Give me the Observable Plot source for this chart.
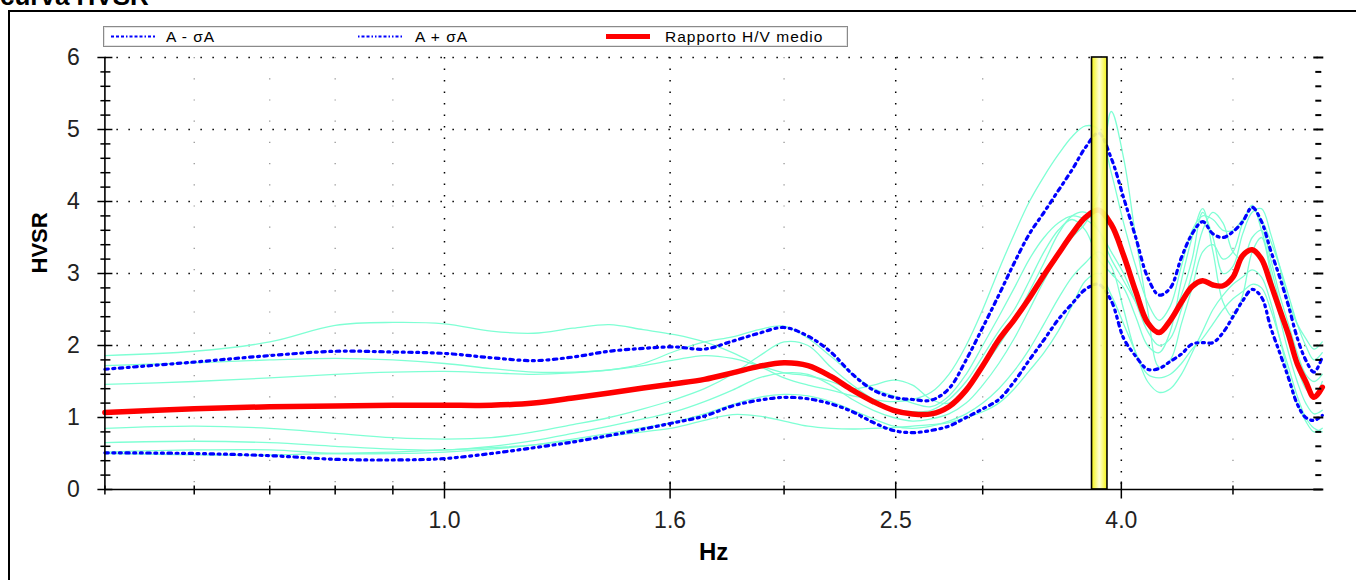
<!DOCTYPE html>
<html>
<head>
<meta charset="utf-8">
<script src="https://cdn.jsdelivr.net/npm/d3@7"></script>
<script src="https://cdn.jsdelivr.net/npm/@observablehq/plot@0.6"></script>
<style>
  html, body { margin: 0; padding: 0; background: #fff; }
  #wrap { position: relative; width: 1356px; height: 580px; overflow: hidden; background: #fff; font-family: "Liberation Sans", Arial, sans-serif; }
  #frame { position: absolute; left: 8px; top: 10px; width: 1400px; height: 620px; border-left: 2px solid #000; border-top: 2px solid #000; }
  #title { position: absolute; left: 0px; top: -17px; font: bold 26px "Liberation Sans", Arial, sans-serif; line-height: 26px; color: #000; white-space: nowrap; }
  #chart { position: absolute; left: 0; top: 0; }
  #legend { position: absolute; left: 103px; top: 26px; width: 743px; height: 19px; border: 1px solid #8a8a8a; box-shadow: inset 0 0 0 1px #e4e4e4; background: #fff; }
  .lg-text { position: absolute; top: 0px; font-size: 15.5px; letter-spacing: 1px; color: #000; line-height: 19px; white-space: nowrap; }
  .lg-line { position: absolute; top: 0; }
</style>
</head>
<body>
<div id="wrap">
  <div id="title">curva HVSR</div>
  <div id="frame"></div>
  <div id="chart"></div>
  <div id="legend"></div>
</div>
<script>
// ---------- DATA ----------
const freq = [0.5,0.6,0.7,0.8,0.9,1.0,1.1,1.2,1.3,1.4,1.5,1.6,1.7,1.8,1.9,2.0,2.1,2.2,2.3,2.4,2.5,2.6,2.7,2.8,2.9,3.0,3.1,3.2,3.3,3.4,3.5,3.6,3.7,3.8,3.9,4.0,4.1,4.2,4.3,4.4,4.5,4.6,4.7,4.8,4.9,5.0,5.1,5.2,5.3,5.4,5.5,5.6,5.7,5.8,5.9,6.0];

const meanHV = [1.07,1.12,1.15,1.16,1.17,1.17,1.17,1.20,1.27,1.34,1.41,1.47,1.53,1.62,1.71,1.76,1.72,1.57,1.38,1.22,1.10,1.05,1.05,1.15,1.38,1.72,2.08,2.36,2.66,2.98,3.27,3.55,3.78,3.88,3.68,3.25,2.75,2.32,2.18,2.35,2.60,2.82,2.90,2.84,2.83,2.95,3.25,3.33,3.20,2.86,2.50,2.15,1.75,1.50,1.28,1.42];

const upperHV = [1.67,1.77,1.86,1.92,1.91,1.89,1.83,1.79,1.84,1.92,1.96,1.98,1.95,2.06,2.17,2.25,2.13,1.91,1.60,1.38,1.28,1.25,1.24,1.40,1.80,2.25,2.70,3.15,3.55,3.85,4.15,4.44,4.75,4.95,4.60,4.05,3.50,2.95,2.70,2.80,3.22,3.55,3.72,3.55,3.50,3.58,3.72,3.92,3.72,3.32,2.95,2.55,2.11,1.80,1.63,1.84];

const lowerHV = [0.51,0.50,0.47,0.42,0.41,0.43,0.50,0.58,0.66,0.75,0.84,0.93,1.02,1.16,1.24,1.28,1.26,1.19,1.08,0.93,0.82,0.79,0.82,0.88,1.00,1.12,1.25,1.50,1.80,2.08,2.36,2.58,2.78,2.85,2.62,2.10,1.85,1.67,1.68,1.78,1.88,2.02,2.04,2.04,2.18,2.40,2.62,2.78,2.67,2.25,1.90,1.55,1.19,1.00,0.96,1.03];

const window1 = [1.86,1.92,2.05,2.28,2.32,2.30,2.20,2.17,2.24,2.29,2.22,2.15,2.05,1.90,1.72,1.55,1.45,1.38,1.30,1.25,1.22,1.25,1.35,1.60,2.00,2.50,3.05,3.55,4.00,4.35,4.65,4.90,5.05,5.00,4.40,3.70,3.10,2.60,2.35,2.55,3.10,3.60,3.80,3.75,3.60,3.60,3.75,3.90,3.75,3.45,3.10,2.70,2.30,2.00,1.80,1.90];
const window2 = [1.72,1.76,1.80,1.82,1.80,1.75,1.68,1.63,1.63,1.66,1.75,1.92,2.05,2.12,2.22,2.27,2.10,1.85,1.60,1.40,1.30,1.20,1.15,1.30,1.60,2.00,2.40,2.80,3.20,3.50,3.70,3.80,3.75,3.60,3.30,3.00,2.60,2.20,2.00,2.10,2.50,3.00,3.60,3.85,3.70,3.30,3.20,3.50,3.60,3.20,2.70,2.30,1.90,1.60,1.50,1.60];
const window3 = [1.46,1.50,1.55,1.60,1.63,1.64,1.62,1.60,1.62,1.66,1.72,1.80,1.86,1.82,1.72,1.62,1.58,1.50,1.40,1.45,1.52,1.45,1.25,1.20,1.40,1.70,2.00,2.35,2.75,3.15,3.55,3.80,3.85,3.60,3.20,2.90,2.60,2.30,2.20,2.35,2.70,3.20,3.85,3.50,3.00,3.10,3.55,3.85,3.90,3.55,3.10,2.60,2.30,2.10,1.95,2.05];
const window4 = [0.85,0.88,0.85,0.78,0.72,0.70,0.72,0.80,0.90,1.00,1.12,1.25,1.40,1.60,1.85,2.05,2.00,1.70,1.45,1.25,1.12,1.08,1.10,1.25,1.50,1.85,2.20,2.50,2.90,3.30,3.60,3.75,3.60,3.20,3.00,2.80,2.40,2.00,1.90,2.20,2.90,3.50,3.90,3.30,2.60,2.40,2.70,3.30,3.50,3.00,2.40,1.90,1.50,1.20,1.05,1.10];
const window5 = [0.65,0.67,0.65,0.60,0.56,0.55,0.60,0.68,0.78,0.88,0.98,1.08,1.22,1.38,1.55,1.62,1.60,1.45,1.25,1.10,1.00,0.95,0.98,1.05,1.20,1.45,1.75,2.10,2.50,2.90,3.25,3.50,3.70,4.10,5.25,4.60,3.50,2.50,1.70,1.80,2.30,2.80,3.30,3.40,3.20,3.30,3.70,3.95,3.60,3.10,2.60,2.10,1.70,1.40,1.30,1.50];
const window6 = [0.52,0.55,0.55,0.50,0.50,0.52,0.56,0.62,0.70,0.78,0.86,0.94,1.05,1.18,1.28,1.32,1.30,1.22,1.10,0.98,0.88,0.85,0.88,0.95,1.05,1.20,1.40,1.65,1.95,2.30,2.65,2.95,3.15,3.30,3.10,2.50,1.90,1.60,1.55,1.60,1.75,1.95,2.10,2.30,2.50,2.65,2.75,2.85,2.80,2.50,2.10,1.70,1.30,1.00,0.85,0.80];
const window7 = [0.50,0.48,0.48,0.50,0.52,0.55,0.58,0.62,0.68,0.74,0.80,0.86,0.96,1.04,1.02,0.95,0.88,0.85,0.84,0.85,0.86,0.88,0.90,0.93,1.00,1.08,1.20,1.40,1.65,1.90,2.20,2.55,2.90,3.00,2.70,2.30,1.90,1.50,1.35,1.40,1.60,1.90,2.20,2.50,2.70,2.85,2.95,3.05,2.95,2.60,2.10,1.60,1.20,0.95,0.80,0.85];
const windows = [window1, window2, window3, window4, window5, window6, window7];

// peak frequency band (yellow)
const peakLow = 3.75;
const peakHigh = 3.87;

// axis ticks and labels
const yTicks = [0,1,2,3,4,5,6];
const yTickLabels = ["0","1","2","3","4","5","6"];
const yGridLines = [1,2,3,4,5,6];
const yMinorTicks = [0.2,0.4,0.6,0.8,1.2,1.4,1.6,1.8,2.2,2.4,2.6,2.8,3.2,3.4,3.6,3.8,4.2,4.4,4.6,4.8,5.2,5.4,5.6,5.8];
const xMajorTicks = [1, 10 ** 0.2, 10 ** 0.4, 10 ** 0.6];
const xMajorLabels = ["1.0", "1.6", "2.5", "4.0"];
const xMinorTicks = [0.5, 0.6, 0.7, 0.8, 0.9, 2, 3, 5];
const xMinorGrid = [0.6, 0.7, 0.8, 0.9, 2, 3, 5];

const dashLower = "3.5,4.5,2,4.5,2,4.5";
const dashUpper = "3.5,4.5,2,4.5";

const legendItems = [
  {label: "A - σA", color: "#0000ff", width: 2.2, dash: "3,2,3,2,3,2,1.5,2", left: 7, textLeft: 62},
  {label: "A + σA", color: "#0000ff", width: 2.2, dash: "1.5,2,3,2,3,2,1.5,2", left: 254, textLeft: 311},
  {label: "Rapporto H/V medio", color: "#ff0000", width: 5, dash: null, left: 502, textLeft: 561}
];

// ---------- TABLES ----------
const windowRows = windows.flatMap((arr, k) => arr.map((v, i) => ({f: freq[i], v, w: k})));
const meanRows = meanHV.map((v, i) => ({f: freq[i], v}));
const upperRows = upperHV.map((v, i) => ({f: freq[i], v}));
const lowerRows = lowerHV.map((v, i) => ({f: freq[i], v}));

const font = "'Liberation Sans', Arial, sans-serif";

// tick glyphs (pixel-length strokes used as dot symbols)
const hTick = len => ({draw(ctx) { ctx.moveTo(-len / 2, 0); ctx.lineTo(len / 2, 0); }});
const vTick = len => ({draw(ctx) { ctx.moveTo(0, -len / 2); ctx.lineTo(0, len / 2); }});
const xStart = () => 0.5;
const xEnd = () => 6;
const yZero = () => 0;

const svg = Plot.plot({
  width: 1356,
  height: 580,
  marginLeft: 104.4,
  marginRight: 34.2,
  marginTop: 57,
  marginBottom: 91,
  style: {background: "transparent", fontFamily: font, overflow: "visible", color: "#000"},
  x: {type: "log", domain: [0.5, 6], axis: null},
  y: {domain: [0, 6], axis: null},
  marks: [
    // grid
    Plot.ruleY(yGridLines, {stroke: "#000", strokeWidth: 1.5, strokeDasharray: "1.5,10.5"}),
    Plot.ruleX(xMinorGrid, {stroke: "#8c8c8c", strokeWidth: 1.2, strokeDasharray: "1.2,20"}),
    Plot.ruleX(xMajorTicks, {stroke: "#000", strokeWidth: 1.5, strokeDasharray: "1.5,10"}),
    // individual windows
    Plot.line(windowRows, {x: "f", y: "v", z: "w", stroke: "#7fffd4", strokeWidth: 1.3, curve: "catmull-rom"}),
    // mean ± sigma
    Plot.line(lowerRows, {x: "f", y: "v", stroke: "#0000ff", strokeWidth: 3.2, strokeDasharray: dashLower, curve: "catmull-rom"}),
    Plot.line(upperRows, {x: "f", y: "v", stroke: "#0000ff", strokeWidth: 3.2, strokeDasharray: dashUpper, curve: "catmull-rom"}),
    Plot.line(meanRows, {x: "f", y: "v", stroke: "#ff0000", strokeWidth: 5.5, curve: "catmull-rom"}),
    // peak band
    Plot.rect([{lo: peakLow, hi: peakHigh}], {x1: "lo", x2: "hi", y1: () => 0, y2: () => 6, fill: "url(#bandGrad)", fillOpacity: 0.93, stroke: "#000", strokeWidth: 1.6}),
    // axis lines
    Plot.ruleY([0], {stroke: "#000", strokeWidth: 1.6}),
    Plot.ruleX([0.5], {stroke: "#000", strokeWidth: 1.6}),
    // y ticks (crossing the axis)
    Plot.dot(yTicks, {x: xStart, y: d => d, symbol: hTick(15), fill: "none", stroke: "#000", strokeWidth: 1.5, dx: 0}),
    Plot.dot(yMinorTicks, {x: xStart, y: d => d, symbol: hTick(10), fill: "none", stroke: "#000", strokeWidth: 1.5, dx: 0.5}),
    // right side tick dashes
    Plot.dot(yTicks, {x: xEnd, y: d => d, symbol: hTick(10), fill: "none", stroke: "#000", strokeWidth: 2, dx: -4}),
    Plot.dot(yMinorTicks, {x: xEnd, y: d => d, symbol: hTick(6), fill: "none", stroke: "#000", strokeWidth: 2, dx: -4}),
    // x ticks (crossing the axis)
    Plot.dot(xMajorTicks, {x: d => d, y: yZero, symbol: vTick(17), fill: "none", stroke: "#000", strokeWidth: 1.5, dy: 0.5}),
    Plot.dot(xMinorTicks, {x: d => d, y: yZero, symbol: vTick(9), fill: "none", stroke: "#000", strokeWidth: 1.5, dy: 0.5}),
    // tick labels
    Plot.text(yTicks, {x: xStart, y: d => d, text: (d, i) => yTickLabels[i], textAnchor: "end", dx: -25, fontSize: 23, fill: "#222"}),
    Plot.text(xMajorTicks, {x: d => d, y: yZero, text: (d, i) => xMajorLabels[i], dy: 31, fontSize: 23, fill: "#222"}),
    // axis titles
    Plot.text(["Hz"], {frameAnchor: "bottom", dy: 70, fontSize: 24, fontWeight: "bold", text: d => d}),
    Plot.text(["HVSR"], {frameAnchor: "left", dx: -65, rotate: -90, fontSize: 22, fontWeight: "bold", text: d => d})
  ]
});

// gradient for the peak band
const ns = "http://www.w3.org/2000/svg";
const defs = document.createElementNS(ns, "defs");
const grad = document.createElementNS(ns, "linearGradient");
grad.setAttribute("id", "bandGrad");
grad.setAttribute("x1", "0"); grad.setAttribute("x2", "1"); grad.setAttribute("y1", "0"); grad.setAttribute("y2", "0");
[["0%", "#f2f200"], ["50%", "#ffffd2"], ["100%", "#f2f200"]].forEach(([o, c]) => {
  const s = document.createElementNS(ns, "stop");
  s.setAttribute("offset", o); s.setAttribute("stop-color", c);
  grad.appendChild(s);
});
defs.appendChild(grad);
svg.insertBefore(defs, svg.firstChild);
document.getElementById("chart").appendChild(svg);

// legend
const legend = document.getElementById("legend");
legendItems.forEach(it => {
  const s = document.createElementNS(ns, "svg");
  s.setAttribute("width", 46); s.setAttribute("height", 19);
  s.setAttribute("class", "lg-line");
  s.style.left = it.left + "px";
  const l = document.createElementNS(ns, "line");
  l.setAttribute("x1", 0); l.setAttribute("x2", 44); l.setAttribute("y1", 9.5); l.setAttribute("y2", 9.5);
  l.setAttribute("stroke", it.color); l.setAttribute("stroke-width", it.width);
  if (it.dash) l.setAttribute("stroke-dasharray", it.dash);
  s.appendChild(l);
  legend.appendChild(s);
  const t = document.createElement("div");
  t.className = "lg-text";
  t.style.left = it.textLeft + "px";
  t.textContent = it.label;
  legend.appendChild(t);
});
</script>
</body>
</html>
